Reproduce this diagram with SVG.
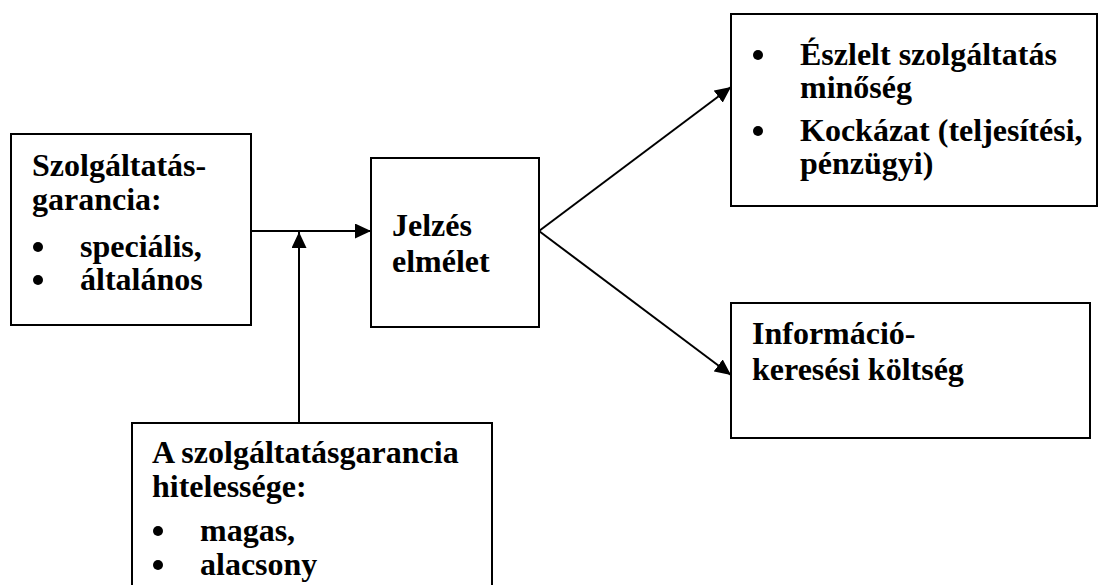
<svg xmlns="http://www.w3.org/2000/svg" width="1103" height="585" viewBox="0 0 1103 585">
  <defs>
    <marker id="arrow" markerUnits="userSpaceOnUse" markerWidth="16" markerHeight="15" refX="16" refY="7.5" orient="auto">
      <path d="M0,0 L16,7.5 L0,15 Z" fill="#000"/>
    </marker>
  </defs>
  <style>
    .box { fill: #fff; stroke: #000; stroke-width: 2; }
    .t { font-family: "Liberation Serif", "Times New Roman", serif; font-weight: bold; font-size: 32px; fill: #000; }
    .dot { fill: #000; }
    .link { stroke: #000; stroke-width: 2; fill: none; marker-end: url(#arrow); }
  </style>
  <rect width="1103" height="585" fill="#fff"/>

  <!-- connectors -->
  <g id="connectors">
    <line class="link" x1="251" y1="231" x2="371" y2="231"/>
    <line class="link" x1="299" y1="423" x2="299" y2="232"/>
    <line class="link" x1="539" y1="231" x2="731" y2="87"/>
    <line class="link" x1="539" y1="231" x2="731" y2="375"/>
  </g>

  <!-- guarantee types -->
  <g id="node-garancia">
    <rect class="box" x="11" y="134" width="240" height="191"/>
    <text class="t" x="32" y="176">Szolgáltatás-</text>
    <text class="t" x="32" y="210">garancia:</text>
    <circle class="dot" cx="38" cy="247" r="5"/>
    <text class="t" x="80" y="257">speciális,</text>
    <circle class="dot" cx="38" cy="280" r="5"/>
    <text class="t" x="80" y="290">általános</text>
  </g>

  <!-- signalling theory -->
  <g id="node-jelzes">
    <rect class="box" x="371" y="158" width="168" height="169"/>
    <text class="t" x="392" y="236">Jelzés</text>
    <text class="t" x="392" y="272">elmélet</text>
  </g>

  <!-- perceived quality and risk -->
  <g id="node-minoseg">
    <rect class="box" x="731" y="14" width="366" height="192"/>
    <circle class="dot" cx="758" cy="55" r="5"/>
    <text class="t" x="800" y="65">Észlelt szolgáltatás</text>
    <text class="t" x="800" y="98">minőség</text>
    <circle class="dot" cx="758" cy="131" r="5"/>
    <text class="t" x="800" y="141">Kockázat (teljesítési,</text>
    <text class="t" x="800" y="174">pénzügyi)</text>
  </g>

  <!-- information search cost -->
  <g id="node-informacio">
    <rect class="box" x="731" y="303" width="359" height="135"/>
    <text class="t" x="752" y="344">Információ-</text>
    <text class="t" x="752" y="380">keresési költség</text>
  </g>

  <!-- guarantee credibility -->
  <g id="node-hitelesseg">
    <rect class="box" x="132" y="423" width="360" height="180"/>
    <text class="t" x="152" y="463">A szolgáltatásgarancia</text>
    <text class="t" x="152" y="497">hitelessége:</text>
    <circle class="dot" cx="158" cy="531" r="5"/>
    <text class="t" x="200" y="541">magas,</text>
    <circle class="dot" cx="158" cy="565" r="5"/>
    <text class="t" x="200" y="575">alacsony</text>
  </g>
</svg>
